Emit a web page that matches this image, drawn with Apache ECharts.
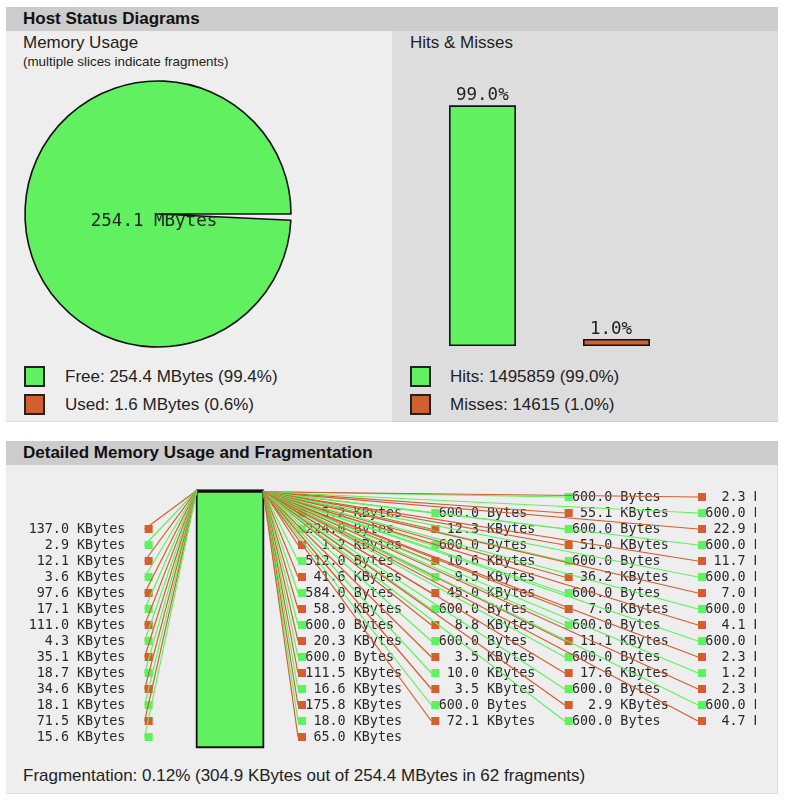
<!DOCTYPE html>
<html>
<head>
<meta charset="utf-8">
<script src="https://cdn.jsdelivr.net/npm/echarts@6/dist/echarts.min.js"></script>
<style>
  html, body { margin: 0; padding: 0; background: #fff; }
  body { width: 789px; height: 800px; position: relative; overflow: hidden;
         font-family: "Liberation Sans", Arial, sans-serif; color: #222; }
  .abs { position: absolute; }
  .hdr { background: #ccc; font-weight: bold; font-size: 17px; line-height: 24px;
         padding-left: 17px; box-sizing: border-box; color: #111; }
  .t17 { font-size: 17px; line-height: 20px; white-space: nowrap; }
  .sq { width: 21px; height: 21px; box-sizing: border-box; border: 2px solid #222; }
</style>
</head>
<body>
<!-- frames -->
<div class="abs hdr" style="left:6px;top:7px;width:772px;height:24px;">Host Status Diagrams</div>
<div class="abs" style="left:6px;top:31px;width:386px;height:390px;background:#eee;border-bottom:1px solid #ddd;"></div>
<div class="abs" style="left:392px;top:31px;width:386px;height:390px;background:#ddd;border-bottom:1px solid #ccc;"></div>
<div class="abs t17" style="left:23px;top:33px;">Memory Usage</div>
<div class="abs" style="left:23px;top:54px;font-size:13.4px;line-height:16px;white-space:nowrap;">(multiple slices indicate fragments)</div>
<div class="abs t17" style="left:410px;top:33px;">Hits &amp; Misses</div>

<div class="abs sq" id="sqFree" style="left:24px;top:366px;"></div>
<div class="abs t17" id="txFree" style="left:65px;top:367px;"></div>
<div class="abs sq" id="sqUsed" style="left:24px;top:394px;"></div>
<div class="abs t17" id="txUsed" style="left:65px;top:395px;"></div>
<div class="abs sq" id="sqHits" style="left:410px;top:366px;"></div>
<div class="abs t17" id="txHits" style="left:450px;top:367px;"></div>
<div class="abs sq" id="sqMiss" style="left:410px;top:394px;"></div>
<div class="abs t17" id="txMiss" style="left:450px;top:395px;"></div>

<div class="abs hdr" style="left:6px;top:441px;width:772px;height:24px;">Detailed Memory Usage and Fragmentation</div>
<div class="abs" style="left:6px;top:465px;width:771px;height:328px;background:#eee;border-right:1px solid #ddd;border-bottom:1px solid #ddd;"></div>
<div class="abs t17" id="txFrag" style="left:23px;top:766px;"></div>

<div id="chartTop" class="abs" style="left:0;top:0;width:789px;height:440px;"></div>
<div id="chartFrag" class="abs" style="left:6px;top:465px;width:750px;height:300px;"></div>

<script>
// ---------- data ----------
const GREEN = '#60F060', RED = '#D06030';
const memTotalMB = 256;
const memFreeMB = 254.4;
const memUsedMB = 1.6;
const bigFreeBlockMB = 254.1;
const hits = 1495859;
const misses = 14615;
const fragPct = 0.12;
const fragFreeKB = 304.9;
const fragCount = 62;

// fragment sizes in display order (labels j = 2 .. 74)
const fragSize = [
  137.0, 2.9, 12.1, 3.6, 97.6, 17.1, 111.0, 4.3, 35.1, 18.7, 34.6, 18.1, 71.5, 15.6,
  5.2, 224.0, 1.2, 512.0, 41.6, 584.0, 58.9, 600.0, 20.3, 600.0, 111.5, 16.6, 175.8, 18.0, 65.0,
  600.0, 12.3, 600.0, 10.6, 9.5, 45.0, 600.0, 8.8, 600.0, 3.5, 10.0, 3.5, 600.0, 72.1,
  600.0, 55.1, 600.0, 51.0, 600.0, 36.2, 600.0, 7.0, 600.0, 11.1, 600.0, 17.6, 600.0, 2.9, 600.0,
  2.3, 600.0, 22.9, 600.0, 11.7, 600.0, 7.0, 600.0, 4.1, 600.0, 2.3, 1.2, 2.3, 600.0, 4.7
];
const fragUnit = ("KKKKKKKKKKKKKK" + "KBKBKBKBKBKKKKK" + "BKBKKKBKBKKKBK" +
                  "BKBKBKBKBKBKBKB" + "KBKBKBKBKBKKKBK").split('');
const fragKind = ("ufufufufufufuf" + "ufufufufufufufu" + "fufufufufufufu" +
                  "fufufufufufufuf" + "ufufufufufufufu").split('');

(function () {
// ---------- html texts ----------
const pct = (a, b) => (a / b * 100).toFixed(1) + '%';
document.getElementById('sqFree').style.background = GREEN;
document.getElementById('sqUsed').style.background = RED;
document.getElementById('sqHits').style.background = GREEN;
document.getElementById('sqMiss').style.background = RED;
document.getElementById('txFree').textContent = 'Free: ' + memFreeMB.toFixed(1) + ' MBytes (' + pct(memFreeMB, memTotalMB) + ')';
document.getElementById('txUsed').textContent = 'Used: ' + memUsedMB.toFixed(1) + ' MBytes (' + pct(memUsedMB, memTotalMB) + ')';
document.getElementById('txHits').textContent = 'Hits: ' + hits + ' (' + pct(hits, hits + misses) + ')';
document.getElementById('txMiss').textContent = 'Misses: ' + misses + ' (' + pct(misses, hits + misses) + ')';
document.getElementById('txFrag').textContent = 'Fragmentation: ' + fragPct.toFixed(2) + '% (' + fragFreeKB.toFixed(1) +
  ' KBytes out of ' + memFreeMB.toFixed(1) + ' MBytes in ' + fragCount + ' fragments)';

const MONO = '"DejaVu Sans Mono", monospace';

// ---------- top chart: pie + hits/misses ----------
const cTop = echarts.init(document.getElementById('chartTop'), null, {renderer: 'canvas'});
cTop.setOption({
  backgroundColor: 'transparent',
  animation: false,
  grid: {left: 415.5, top: 103, width: 268, height: 243},
  xAxis: {type: 'category', data: ['Hits', 'Misses'], show: false},
  yAxis: {type: 'value', min: 0, max: hits + misses, show: false},
  series: [
    {
      type: 'pie', center: [158, 214], radius: 133, startAngle: 0, clockwise: true,
      silent: true, avoidLabelOverlap: false, labelLine: {show: false},
      label: {show: false},
      labelLayout: {dx: -4, dy: 7},
      data: [
        {value: memTotalMB - bigFreeBlockMB, name: 'fragments',
         itemStyle: {color: 'rgba(0,0,0,0)', borderWidth: 0}},
        {value: bigFreeBlockMB, name: 'free',
         itemStyle: {color: GREEN, borderColor: '#111', borderWidth: 1.6},
         label: {show: true, position: 'center',
                 formatter: bigFreeBlockMB.toFixed(1) + ' MBytes',
                 fontFamily: MONO, fontSize: 17.5, color: '#222'}}
      ]
    },
    {
      type: 'bar', barWidth: 67, barMinHeight: 7, silent: true,
      itemStyle: {borderColor: '#111', borderWidth: 1.6},
      label: {show: true, position: [7, -19], fontFamily: MONO, fontSize: 17.5, color: '#222',
              formatter: p => pct(p.value, hits + misses)},
      data: [
        {value: hits, itemStyle: {color: GREEN}},
        {value: misses, itemStyle: {color: RED}}
      ]
    }
  ]
});

// ---------- fragmentation diagram ----------
const K = 4 / 3;              // image units -> px
const barX = 134, barW = 50, barTop = 1, barH = 193;
const fragBytes = fragSize.map((v, i) => v * (fragUnit[i] === 'K' ? 1024 : 1));
const totalBytes = memTotalMB * 1024 * 1024;
let cum = 0;
const blockData = [];
const labelData = [];
fragBytes.forEach((b, i) => {
  const y0 = barTop + barH * cum / totalBytes;
  const y1 = barTop + barH * (cum + b) / totalBytes;
  const used = fragKind[i] === 'u' ? 1 : 0;
  blockData.push([y0, y1, used]);
  labelData.push([i + 2, (y0 + y1) / 2, used, i]);
  cum += b;
});
{
  const b = bigFreeBlockMB * 1024 * 1024;
  blockData.push([barTop + barH * cum / totalBytes, barTop + barH * (cum + b) / totalBytes, 0]);
}

function place(j) {
  if (j < 16) return {left: true, sx: 95, py: j * 12 + 6, tx: 8};
  let c, r;
  if (j < 31) { c = 0; r = j - 15; } else { c = Math.floor((j - 15) / 15); r = j % 15; }
  const sx = 210 + 100 * c;
  return {left: false, sx: sx, py: r * 12 + 6, tx: sx + 5.5};
}
function bsize(i) {
  return fragSize[i].toFixed(1).padStart(5, ' ') + ' ' + (fragUnit[i] === 'K' ? 'KBytes' : 'Bytes');
}

const W = 750;
const cFrag = echarts.init(document.getElementById('chartFrag'), null, {renderer: 'canvas'});
const x0px = 12, y0px = 24;   // image origin inside this div
cFrag.setOption({
  backgroundColor: 'transparent',
  animation: false,
  grid: {left: 0, right: 0, top: 0, bottom: 0},
  xAxis: {type: 'value', min: -x0px / K, max: (W - x0px) / K, show: false},
  yAxis: {type: 'value', min: -y0px / K, max: (300 - y0px) / K, inverse: true, show: false},
  series: [
    {
      type: 'custom', silent: true, data: blockData,
      renderItem: function (params, api) {
        const a = api.coord([barX, api.value(0)]);
        const b = api.coord([barX + barW, api.value(1)]);
        const big = params.dataIndex === blockData.length - 1;
        return {
          type: 'rect',
          shape: {x: a[0], y: a[1], width: b[0] - a[0], height: Math.max(b[1] - a[1], 0.3)},
          style: {fill: api.value(2) ? RED : GREEN, stroke: '#111', lineWidth: big ? 1.8 : 1.2}
        };
      }
    },
    {
      type: 'custom', silent: true, data: labelData,
      renderItem: function (params, api) {
        const j = api.value(0), mid = api.value(1), used = api.value(2), idx = api.value(3);
        const p = place(j);
        const col = used ? RED : GREEN;
        const s0 = api.coord([p.sx, p.py - 3]);
        const s1 = api.coord([p.sx + 6, p.py + 3]);
        const a = api.coord([p.left ? barX : barX + barW, mid]);
        const b = api.coord([p.sx, p.py]);
        const t = api.coord([p.tx, p.py]);
        return {
          type: 'group',
          children: [
            {type: 'rect', shape: {x: s0[0], y: s0[1], width: s1[0] - s0[0], height: s1[1] - s0[1]},
             style: {fill: col}},
            {type: 'line', shape: {x1: a[0], y1: a[1], x2: b[0], y2: b[1]},
             style: {stroke: col, lineWidth: 1.2}},
            {type: 'text', x: t[0], y: t[1] + 0.5,
             style: {text: bsize(idx), font: '13.4px ' + MONO, fill: '#2a2a2a',
                     textAlign: 'left', textVerticalAlign: 'middle', align: 'left', verticalAlign: 'middle'}}
          ]
        };
      }
    }
  ]
});
})();
</script>
</body>
</html>
